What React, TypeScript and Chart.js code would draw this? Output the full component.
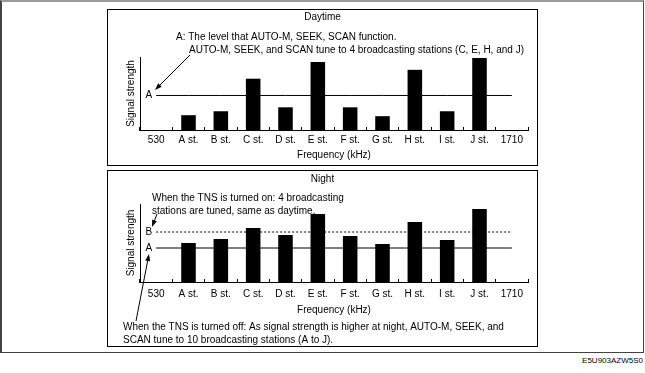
import React, { useEffect, useRef } from "react";
import { Chart, registerables } from "chart.js";

Chart.register(...registerables);

const FONT = "'Liberation Sans', Arial, Helvetica, sans-serif";

// ---- data ----
const categories = ["530", "A st.", "B st.", "C st.", "D st.", "E st.", "F st.", "G st.", "H st.", "I st.", "J st.", "1710"];
const daySignal = [null, 15, 19, 52, 23, 69, 23, 14, 61, 19, 73, null];
const nightSignal = [null, 39, 43, 54, 47, 68, 46, 38, 60, 42, 73, null];
const dayLevelA = 35;
const nightLevelA = 34;
const nightLevelB = 50;
const dayMax = 74;
const nightMax = 78;

const dayTitle = "Daytime";
const nightTitle = "Night";
const xTitle = "Frequency (kHz)";
const yTitle = "Signal strength";

const dayNotes = [
  "A: The level that AUTO-M, SEEK, SCAN function.",
  "AUTO-M, SEEK, and SCAN tune to 4 broadcasting stations (C, E, H, and J)",
];
const nightNotesTop = [
  "When the TNS is turned on: 4 broadcasting",
  "stations are tuned, same as daytime.",
];
const nightNotesBottom = [
  "When the TNS is turned off: As signal strength is higher at night, AUTO-M, SEEK, and",
  "SCAN tune to 10 broadcasting stations (A to J).",
];
const footerCode = "E5U903AZW5S0";

type Note = { t: string; x: number; y: number };
type Arrow = [number, number, number, number];
type Level = { label: string; value: number };

function drawArrow(ctx: CanvasRenderingContext2D, x1: number, y1: number, x2: number, y2: number) {
  const ang = Math.atan2(y2 - y1, x2 - x1);
  const len = 7;
  const half = 2.5;
  const bx = x2 - len * Math.cos(ang);
  const by = y2 - len * Math.sin(ang);
  ctx.beginPath();
  ctx.moveTo(x1, y1);
  ctx.lineTo(bx, by);
  ctx.lineWidth = 1;
  ctx.stroke();
  ctx.beginPath();
  ctx.moveTo(x2, y2);
  ctx.lineTo(bx + half * Math.sin(ang), by - half * Math.cos(ang));
  ctx.lineTo(bx - half * Math.sin(ang), by + half * Math.cos(ang));
  ctx.closePath();
  ctx.fill();
}

function notesPlugin(texts: Note[], arrows: Arrow[], levels: Level[]) {
  return {
    id: "notes",
    afterDatasetsDraw(chart: any) {
      const { ctx } = chart;
      const xs = chart.scales.x;
      const ys = chart.scales.y;
      ctx.save();
      ctx.fillStyle = "#000";
      ctx.strokeStyle = "#000";
      ctx.font = `10px ${FONT}`;
      ctx.textBaseline = "middle";
      ctx.textAlign = "right";
      for (const l of levels) {
        ctx.fillText(l.label, xs.getPixelForValue(0) - 4, ys.getPixelForValue(l.value));
      }
      ctx.textAlign = "left";
      for (const t of texts) ctx.fillText(t.t, t.x, t.y);
      for (const a of arrows) drawArrow(ctx, a[0], a[1], a[2], a[3]);
      ctx.restore();
    },
  };
}

function makeConfig(opts: {
  title: string;
  values: (number | null)[];
  levels: { value: number; label: string; dash: number[] }[];
  max: number;
  titlePad: { top: number; bottom: number };
  bottomPad: number;
  xHeight: number;
  tickPad: number;
  texts: Note[];
  arrows: Arrow[];
}): any {
  const font = { family: FONT, size: 10, weight: "normal" as const };
  return {
    type: "bar",
    data: {
      labels: categories,
      datasets: [
        ...opts.levels.map((l) => ({
          type: "line",
          data: categories.map(() => l.value),
          borderColor: "#000",
          borderWidth: 1,
          borderDash: l.dash,
          pointRadius: 0,
          fill: false,
          order: 2,
        })),
        {
          type: "bar",
          data: opts.values,
          backgroundColor: "#000",
          borderWidth: 0,
          barPercentage: 0.45,
          categoryPercentage: 1,
          order: 1,
        },
      ],
    },
    options: {
      animation: false,
      responsive: false,
      maintainAspectRatio: false,
      devicePixelRatio: 1,
      layout: { padding: { left: 9, right: 9, top: 0, bottom: opts.bottomPad } },
      plugins: {
        legend: { display: false },
        tooltip: { enabled: false },
        title: {
          display: true,
          text: opts.title,
          color: "#000",
          font,
          padding: opts.titlePad,
        },
      },
      scales: {
        x: {
          offset: true,
          grid: {
            display: true,
            drawOnChartArea: false,
            offset: true,
            color: "#000",
            lineWidth: 1,
            drawTicks: true,
            tickLength: -3,
          },
          border: { display: true, color: "#000", width: 1 },
          ticks: { color: "#000", font, padding: opts.tickPad, maxRotation: 0, autoSkip: false },
          title: { display: true, text: xTitle, color: "#000", font, padding: { top: 0, bottom: 4 } },
          afterFit: (s: any) => {
            s.height = opts.xHeight;
          },
        },
        y: {
          min: 0,
          max: opts.max,
          grid: { display: false },
          border: { display: true, color: "#000", width: 1 },
          ticks: { display: false },
          title: { display: true, text: yTitle, color: "#000", font, padding: { top: 8, bottom: 0 } },
          afterFit: (s: any) => {
            s.width = 23;
          },
        },
      },
    },
    plugins: [notesPlugin(opts.texts, opts.arrows, opts.levels.map((l) => ({ label: l.label, value: l.value })))],
  };
}

function ChartCanvas({ config, left, top, width, height }: any) {
  const ref = useRef<HTMLCanvasElement>(null);
  useEffect(() => {
    if (!ref.current) return;
    const chart = new Chart(ref.current, config());
    return () => chart.destroy();
  }, []);
  return (
    <canvas
      ref={ref}
      width={width}
      height={height}
      style={{ position: "absolute", left, top, width, height }}
    />
  );
}

export default function App() {
  const dayConfig = () =>
    makeConfig({
      title: dayTitle,
      values: daySignal,
      levels: [{ value: dayLevelA, label: "A", dash: [] }],
      max: dayMax,
      titlePad: { top: 1, bottom: 34 },
      bottomPad: 0,
      xHeight: 35,
      tickPad: 7,
      texts: [
        { t: dayNotes[0], x: 68, y: 27 },
        { t: dayNotes[1], x: 81, y: 40 },
      ],
      arrows: [[82, 45, 47, 80]],
    });
  const nightConfig = () =>
    makeConfig({
      title: nightTitle,
      values: nightSignal,
      levels: [
        { value: nightLevelA, label: "A", dash: [] },
        { value: nightLevelB, label: "B", dash: [2, 2] },
      ],
      max: nightMax,
      titlePad: { top: 2, bottom: 19 },
      bottomPad: 31,
      xHeight: 38,
      tickPad: 9,
      texts: [
        { t: nightNotesTop[0], x: 44, y: 27 },
        { t: nightNotesTop[1], x: 44, y: 40 },
        { t: nightNotesBottom[0], x: 15, y: 156 },
        { t: nightNotesBottom[1], x: 15, y: 169 },
      ],
      arrows: [
        [49, 43, 44, 56],
        [28, 150, 41, 83],
      ],
    });

  return (
    <div
      style={{
        position: "absolute",
        left: 0,
        top: 0,
        width: 645,
        height: 373,
        background: "#fff",
        fontFamily: FONT,
        overflow: "hidden",
      }}
    >
      <div
        style={{
          position: "absolute",
          left: 0,
          top: 0,
          width: 644,
          height: 353,
          boxSizing: "border-box",
          borderTop: "2px solid #9a9a9a",
          borderLeft: "2px solid #444",
          borderRight: "1px solid #444",
          borderBottom: "1px solid #444",
        }}
      />
      <div
        style={{
          position: "absolute",
          left: 107,
          top: 9,
          width: 431,
          height: 157,
          boxSizing: "border-box",
          border: "1px solid #000",
        }}
      />
      <div
        style={{
          position: "absolute",
          left: 107,
          top: 170,
          width: 431,
          height: 177,
          boxSizing: "border-box",
          border: "1px solid #000",
        }}
      />
      <ChartCanvas config={dayConfig} left={108} top={10} width={429} height={155} />
      <ChartCanvas config={nightConfig} left={108} top={171} width={429} height={180} />
      <div
        style={{
          position: "absolute",
          right: 2,
          top: 356,
          fontSize: 8,
          lineHeight: "10px",
          color: "#000",
          fontFamily: FONT,
        }}
      >
        {footerCode}
      </div>
    </div>
  );
}
